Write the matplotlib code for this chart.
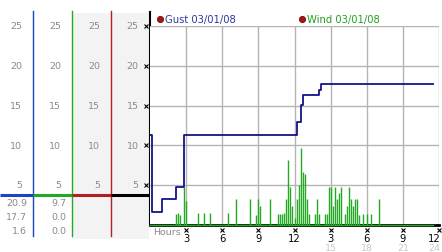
import matplotlib
matplotlib.use('Agg')
from matplotlib import pyplot as plt
from matplotlib import transforms

# 10-minute samples, hour 0 .. 23.5
gust = [11.3, 1.6, 1.6, 1.6, 1.6, 1.6,
        3.2, 3.2, 3.2, 3.2, 3.2, 3.2, 3.2,
        4.7, 4.7, 4.7, 4.7] + [11.3] * 56 + \
       [12.9, 12.9, 15.1] + [16.3] * 8 + [16.9] + [17.7] * 57

wind = [0, 0, 0, 0, 0, 0, 0, 0, 0, 0, 0, 0, 0, 1.3, 1.5, 1.2, 0, 4.8, 3.0, 0, 0, 0, 0, 0,
        1.5, 0, 0, 1.5, 0, 0, 1.5, 0, 0, 0, 0, 0, 0, 0, 0, 1.5, 0, 0, 0, 3.2, 0, 0, 0, 0,
        0, 0, 3.2, 0, 0, 1.2, 3.2, 2.3, 0, 0, 0, 0, 3.2, 0, 0, 0, 1.4, 1.4, 1.3, 1.5, 3.2, 8.1, 4.8, 2.3,
        0.8, 3.2, 5.0, 9.7, 6.6, 6.4, 3.2, 1.4, 0, 0, 1.3, 3.2, 1.3, 0, 0, 1.4, 1.4, 4.8, 4.8, 2.3, 4.8, 3.2,
        4.0, 4.8, 0, 1.4, 2.3, 4.8, 3.2, 2.3, 3.2, 3.2, 1.2, 0, 1.4, 0, 1.4, 0, 1.4, 0, 0, 0, 3.2, 0, 0, 0,
        0, 0, 0, 0, 0, 0, 0, 0, 0, 0, 0, 0, 0, 0, 0, 0, 0, 0, 0, 0, 0, 0, 0, 0]
gust_hours = [i / 6 for i in range(len(gust))]
wind_hours = [i / 6 for i in range(len(wind))]

yticks = [5, 10, 15, 20, 25]
xticks = [3, 6, 9, 12, 15, 18, 21, 24]
xlabels = ['3', '6', '9', '12', '3', '6', '9', '12']
xlabels2 = ['15', '18', '21', '24']
gust_stats = ['20.9', '17.7', '1.6']
wind_stats = ['9.7', '0.0', '0.0']

plt.rcParams['font.family'] = ['DejaVu Sans']
W, H = 442, 253
fig = plt.figure(figsize=(W / 100, H / 100), dpi=100)

deco = fig.add_axes([0, 0, 1, 1], zorder=0)
deco.set_xlim(0, W)
deco.set_ylim(H, 0)
deco.axis('off')

x0, x1, ytop, ybot = 150, 439, 27, 225.75
ax = fig.add_axes([x0 / W, (H - ybot) / H, (x1 - x0) / W, (ybot - ytop) / H], zorder=2)
ax.set_xlim(0, 24)
ax.set_ylim(0, 25)
ax.set_xticks(xticks)
ax.set_yticks(yticks)
ax.grid(color='#b4b4b4', lw=1)
ax.set_axisbelow(True)
for s in ['top', 'right', 'left']:
    ax.spines[s].set_visible(False)
ax.spines['bottom'].set_color('black')
ax.spines['bottom'].set_linewidth(2)
ax.tick_params(length=0, labelbottom=False, labelleft=False)

ax.vlines(wind_hours, 0, wind, color='#22aa22', lw=1.0, zorder=3)
ax.plot([wind_hours[0], wind_hours[-1]], [0, 0], color='#22aa22', lw=1.0, zorder=3, clip_on=False)
ax.plot(gust_hours, gust, color='#141488', lw=1.3, drawstyle='steps-post', zorder=4)

# left panels
deco.add_patch(plt.Rectangle((72, 14), 77, 226, color='#f3f3f3', lw=0))
cols = [(33, '#1a44c0'), (72, '#22aa22'), (111, '#b02020'), (149.5, 'black')]
prev = 0
for cx, c in cols:
    if cx < 149:
        deco.plot([cx, cx], [12, 237], color=c, lw=1)
    deco.plot([prev, cx], [196, 196], color=c, lw=2.2, solid_capstyle='butt')
    prev = cx
deco.plot([149.5, 149.5], [13, 225], color='black', lw=1.5)

tr = transforms.blended_transform_factory(deco.transData, ax.transData)
gray = '#8a8a8a'
for cx, c in cols:
    for v in yticks:
        deco.text(cx - 11, v, str(v), transform=tr, ha='right', va='center',
                  fontsize=6.8, color=gray)
for v in yticks:
    deco.plot([146], [v], marker='x', ms=2.5, mew=0.8, color='black', transform=tr, clip_on=False)

for i, (g, w) in enumerate(zip(gust_stats, wind_stats)):
    y = 204 + i * 14
    deco.text(27, y, g, ha='right', va='center', fontsize=6.8, color=gray)
    deco.text(66, y, w, ha='right', va='center', fontsize=6.8, color=gray)

# x tick labels
trx = transforms.blended_transform_factory(ax.transData, deco.transData)
deco.text(153, 233, 'Hours', ha='left', va='center', fontsize=6.8, color=gray)
for xv, lab in zip(xticks, xlabels):
    ha = 'right' if xv == 24 else 'center'
    xs = 24.1 if xv == 24 else xv
    deco.plot([xs - 0.1 if xv == 24 else xv], [231], marker='x', ms=2.5, mew=0.8,
              color='black', transform=trx, clip_on=False)
    deco.text(xs, 239.5, lab, transform=trx, ha=ha, va='center', fontsize=7.2, color='black')
for xv, lab in zip(xticks[4:], xlabels2):
    ha = 'right' if xv == 24 else 'center'
    xs = 24.1 if xv == 24 else xv
    deco.text(xs, 249, lab, transform=trx, ha=ha, va='center', fontsize=6.8, color='#c8c8c8')

# legend
deco.plot([160], [19.5], 'o', ms=4.5, color='#b01010', mec='#500000', mew=0.5)
deco.text(165, 19.5, 'Gust 03/01/08', ha='left', va='center', fontsize=7.2, color='#2a3aa0')
deco.plot([302], [19.5], 'o', ms=4.5, color='#b01010', mec='#500000', mew=0.5)
deco.text(307, 19.5, 'Wind 03/01/08', ha='left', va='center', fontsize=7.2, color='#22a022')

fig.savefig('out.png', dpi=100)
